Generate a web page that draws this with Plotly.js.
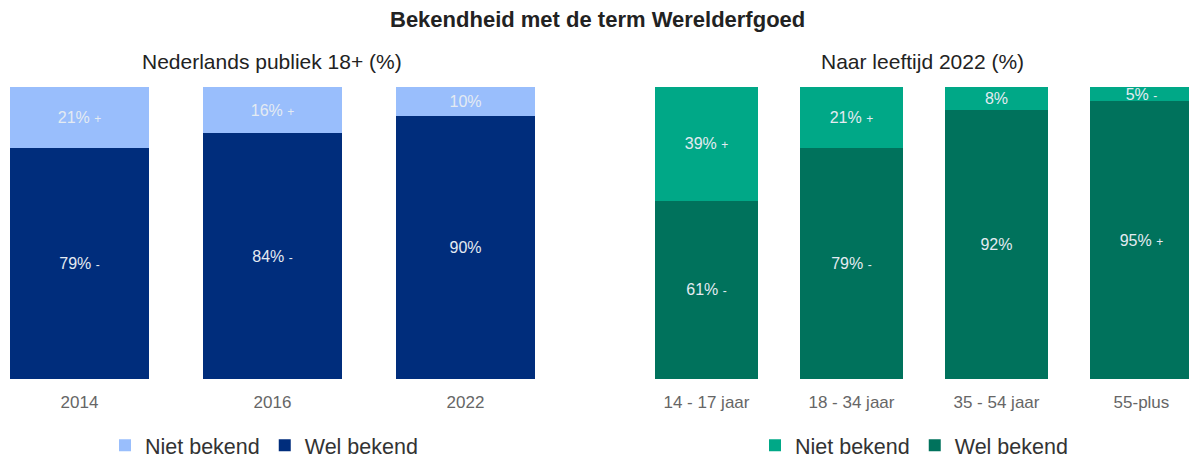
<!DOCTYPE html>
<html><head><meta charset="utf-8">
<script src="https://cdn.plot.ly/plotly-3.0.1.min.js"></script>
<style>html,body{margin:0;padding:0;background:#fff;overflow:hidden}#c{width:1189px;height:466px}</style>
</head><body><div id="c"></div>
<script>
// Left panel: Nederlands publiek 18+
const yearCats = ["2014", "2016", "2022"];
const yearNiet = [21, 16, 10];
const yearWel = [79, 84, 90];
const yearNietSig = ["+", "+", ""];
const yearWelSig = ["-", "-", ""];
// Right panel: Naar leeftijd 2022
const ageCats = ["14 - 17 jaar", "18 - 34 jaar", "35 - 54 jaar", "55-plus"];
const ageNiet = [39, 21, 8, 5];
const ageWel = [61, 79, 92, 95];
const ageNietSig = ["+", "+", "", "-"];
const ageWelSig = ["-", "-", "", "+"];

function lbl(v, s) { return v.map((x, i) => x + "%" + (s[i] ? " <span style='font-size:12px'>" + s[i] + "</span>" : "")); }

const FAM = "Liberation Sans, Arial, sans-serif";
const txtFont = {family: FAM, size: 16, color: "#e4ebf2"};
function bar(cats, vals, sig, name, color, xa, ya, lg, w) {
  return {type: "bar", x: cats, y: vals, name: name, text: lbl(vals, sig), textposition: "inside",
    insidetextanchor: "middle", textfont: txtFont, marker: {color: color}, width: w,
    xaxis: xa, yaxis: ya, legend: lg, hoverinfo: "skip", constraintext: "none", textangle: 0, cliponaxis: true};
}

const data = [
  bar(yearCats, yearWel, yearWelSig, "Wel bekend", "#002d7c", "x", "y", "legend", 0.72),
  bar(yearCats, yearNiet, yearNietSig, "Niet bekend", "#99befc", "x", "y", "legend", 0.72),
  bar(ageCats, ageWel, ageWelSig, "Wel bekend", "#00725c", "x2", "y2", "legend2", 0.71),
  bar(ageCats, ageNiet, ageNietSig, "Niet bekend", "#00a887", "x2", "y2", "legend2", 0.71)
];

const W = 1189, H = 466;
const py = p => 1 - p / H;
const yDom = [py(389), py(89)];
const axFont = {family: FAM, size: 17, color: "#666"};
const xbase = {type: "category", showgrid: false, zeroline: false, showline: false, ticks: "", tickfont: axFont, ticklabelstandoff: 11, fixedrange: true};
const ybase = {range: [0, 100], visible: false, domain: yDom, fixedrange: true};
const legFont = {family: FAM, size: 21.5, color: "#333"};

const layout = {
  width: W, height: H, margin: {l: 0, r: 0, t: 0, b: 0},
  paper_bgcolor: "#fff", plot_bgcolor: "#fff", barmode: "stack",
  font: {family: FAM},
  xaxis: Object.assign({}, xbase, {domain: [10 / W, 535 / W], range: [-0.36, 2.36], anchor: "y"}),
  yaxis: Object.assign({}, ybase, {anchor: "x"}),
  xaxis2: Object.assign({}, xbase, {domain: [655 / W, 1], range: [-0.355, 3.328], anchor: "y2"}),
  yaxis2: Object.assign({}, ybase, {anchor: "x2"}),
  legend: {orientation: "h", x: 105 / W, xanchor: "left", y: py(457), yanchor: "middle", font: legFont, traceorder: "reversed", bgcolor: "rgba(0,0,0,0)", itemwidth: 30, borderwidth: 0},
  legend2: {orientation: "h", x: 755 / W, xanchor: "left", y: py(457), yanchor: "middle", font: legFont, traceorder: "reversed", bgcolor: "rgba(0,0,0,0)", itemwidth: 30, borderwidth: 0},
  annotations: [
    {text: "<b>Bekendheid met de term Werelderfgoed</b>", x: 597 / W, y: py(20), xref: "paper", yref: "paper", showarrow: false, xanchor: "center", yanchor: "middle", font: {family: FAM, size: 22, color: "#222"}},
    {text: "Nederlands publiek 18+ (%)", x: 272 / W, y: py(63), xref: "paper", yref: "paper", showarrow: false, xanchor: "center", yanchor: "middle", font: {family: FAM, size: 21, color: "#222"}},
    {text: "Naar leeftijd 2022 (%)", x: 922 / W, y: py(63), xref: "paper", yref: "paper", showarrow: false, xanchor: "center", yanchor: "middle", font: {family: FAM, size: 21, color: "#222"}}
  ]
};
Plotly.newPlot("c", data, layout, {displayModeBar: false, staticPlot: true});
</script></body></html>
